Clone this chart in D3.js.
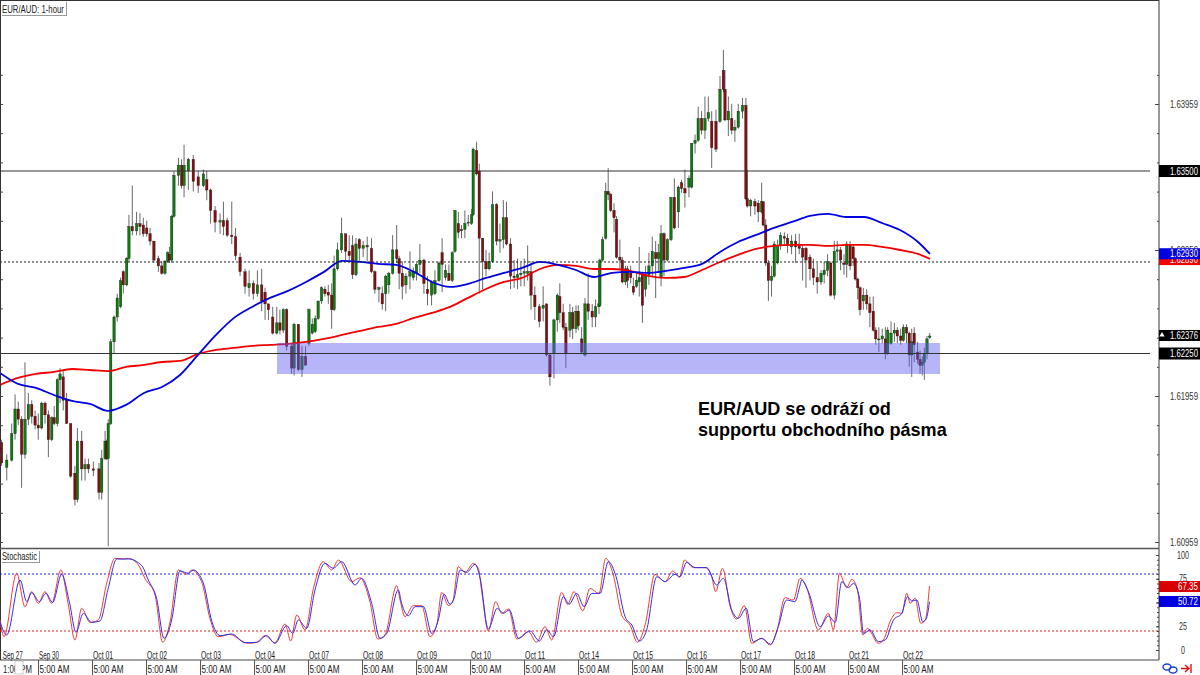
<!DOCTYPE html>
<html><head><meta charset="utf-8">
<script src="https://cdn.jsdelivr.net/npm/d3@7/dist/d3.min.js"></script>
<style>html,body{margin:0;padding:0;background:#fff}svg{display:block}text{font-family:"Liberation Sans",sans-serif}</style>
</head><body><svg id="c" width="1200" height="675"></svg>
<script>
// Candle times: hours since the left edge of the chart. Prices: pips above 1.60000.
const candleHours=[0.7,3,5.2,6.7,8.1,9.6,11.1,12.6,14.1,15.6,17,18.5,20,21.5,23,24.1,25.5,26.7,28.1,29.6,31.4,33.3,34.4,36.3,37.8,39.3,41.5,44,45.2,46.7,47.4,48.1,49.2,50.7,52.1,53.6,54.8,56.3,57.3,58.8,60.7,62.2,63.7,65.2,66.7,68.4,70.4,71.9,73.3,74.5,75.3,76.3,77.3,79.3,80.7,81.8,83.7,85.9,88.1,90.4,91.9,93.6,95.6,97.8,99.3,101,103,104.7,106.7,108.9,110.7,112.6,114.4,116.3,117.8,119.3,121.2,123,124.4,125.9,127.4,129.6,130.7,132.6,
134.2,135.8,137.3,138.8,140.1,141.4,142.9,144.4,145.9,147.4,148.5,150,151.8,153.6,155.2,156.7,158.2,159.7,161.4,163.2,165.1,166.6,168.4,169.9,171.4,172.8,174.5,176.3,177.4,178.8,180.4,182.2,183.7,185.1,186.6,188.4,190,191.8,193.3,195.1,196.5,198,199.5,201,202.2,203.7,205.1,206.6,208.1,209.6,210.3,211.8,213,214.5,216,217.4,218.9,220.7,222.2,223.7,225.1,226.9,228.5,230,231.5,233,234.5,236,237.7,239.7,241.4,242.9,244.4,246.2,247.7,248.8,250.3,251.5,253.3,254.5,256,257,258.5,260,261.4,263.2,264.7,266.2,
266.6,267.8,269.2,270.3,271.4,272.9,274,275.5,276.6,278,278.9,280.3,281.5,282.9,284.1,285.5,286.9,288.4,289.9,291.4,292.6,293.8,295.1,296.6,298.2,299.7,301.5,302.9,304.4,306.2,307.4,308.9,310.3,311.8,313.3,314.8,316.3,318.2,320,321.5,322.2,323.7,325.2,326.6,328.1,330,331.5,332.1,333.6,335.5,337,338.5,339.2,340.3,341.5,342.9,344.1,345.6,346.9,348.6,350,351.8,353.6,355.2,356.7,358.2,360,361.5,363.2,364.9,366.3,367.8,369.2,370.8,372.1,373.6,375.1,376.3,377.8,379.2,380.1,381.2,382.2,383.7,385.2,386.6,388.1,389.2,390.6,392.1,393.5,394.5,396,397.5,398.8,400.3,401.5,402.9,404.1,405.2,406.3,407.8,408.9,409.9,410.8,412,413.2];
const opens=[164,147,152,170,187,180,156,180,190,182,176,174,191,183,166,181,177,207,209,193,177,143,125,165,146,149,146,146,130,153,165,153,177,233,250,257,281,272,290,312,309,314,313,311,307,302,290,285,280,288,293,289,319,347,354,340,350,358,346,340,344,337,323,315,316,316,306,305,291,281,270,273,266,272,267,259,250,239,246,241,255,230,215,245,
214,223,232,239,240,249,261,269,267,265,255,283,296,307,295,299,279,303,297,299,297,281,269,266,266,272,280,296,290,280,272,278,277,280,286,289,269,265,266,275,294,277,280,275,295,314,309,310,315,314,320,364,350,304,288,283,288,327,302,303,318,300,278,277,279,280,280,281,265,257,256,259,224,225,248,264,253,243,241,253,242,254,235,224,259,254,250,257,
258,289,304,336,334,323,317,291,289,274,283,280,271,271,274,279,269,279,285,294,290,277,307,289,303,332,322,342,338,339,339,369,371,386,378,386,384,384,384,419,406,385,386,378,380,391,395,331,326,329,328,322,329,313,287,275,278,287,299,305,304,298,302,300,297,297,291,283,277,274,279,282,287,265,295,296,287,286,299,298,290,276,270,261,265,259,254,241,235,235,235,225,232,239,241,237,234,243,239,224,239,226,221,217,219,225,236];
const highs=[166,156,177,197,192,182,219,198,193,186,184,192,192,186,182,189,208,215,213,198,177,148,174,172,153,153,151,150,159,172,166,180,235,251,266,277,282,291,320,340,322,321,318,316,311,302,292,288,289,295,298,320,350,359,358,368,359,361,350,351,350,338,326,321,329,318,329,311,294,283,282,275,282,283,270,259,257,257,255,256,256,232,246,245,
230,230,256,249,251,261,271,271,272,273,292,301,318,307,306,306,304,304,302,305,304,282,271,271,279,281,306,313,292,288,280,295,284,287,300,290,278,275,282,288,304,286,286,295,323,322,313,323,320,324,366,370,355,304,296,294,336,328,314,330,329,304,289,290,287,290,299,288,271,259,271,259,225,249,266,273,259,246,259,257,258,258,243,263,280,259,262,287,
290,305,342,352,335,328,319,303,291,285,285,285,277,280,298,280,285,294,305,302,300,313,308,304,332,345,340,344,351,347,369,375,394,391,401,401,391,392,415,433,419,401,396,385,396,400,400,351,331,331,330,342,329,317,289,285,302,303,308,308,307,306,307,307,300,298,293,290,287,282,288,293,288,302,302,298,293,302,302,300,291,277,271,270,269,264,264,243,243,242,243,243,247,246,243,242,245,245,240,242,243,233,227,223,229,237,239];
const lows=[148,138,151,166,176,133,153,176,177,173,166,173,177,154,165,176,175,191,186,177,140,121,123,138,138,143,141,125,125,152,152,93,176,225,247,256,266,271,288,306,306,306,305,305,299,287,281,279,279,287,287,287,318,340,338,332,337,336,335,339,330,314,308,307,306,305,300,289,278,266,264,262,264,254,248,248,238,238,238,239,227,211,210,213,
209,217,230,238,239,248,259,264,259,242,254,282,294,289,289,276,278,288,291,288,280,266,260,255,254,266,279,287,269,262,266,269,275,275,280,266,258,258,265,274,267,275,275,274,294,304,304,304,312,313,319,347,266,269,278,282,287,299,294,297,299,269,270,269,271,271,275,255,248,243,247,223,203,208,240,246,241,215,236,235,239,241,225,223,248,243,243,252,
257,288,303,330,322,308,290,282,273,272,270,273,265,270,264,246,264,272,278,263,280,271,278,288,302,310,311,335,325,332,338,362,370,375,372,384,352,363,383,404,384,374,375,370,379,386,330,325,319,320,315,321,312,285,261,264,277,286,296,299,294,293,287,293,275,270,275,272,266,272,273,278,264,262,288,282,279,277,282,285,275,262,251,255,255,243,240,231,226,232,221,224,231,233,232,231,233,232,216,209,219,218,211,210,207,221,235];
const closes=[150,152,170,187,180,156,180,190,182,176,174,191,183,166,181,177,207,211,193,177,141,125,165,146,149,146,145,130,153,165,153,177,233,250,263,275,272,290,312,309,314,312,307,307,302,289,285,280,288,294,289,319,347,354,340,354,358,343,340,348,337,323,315,316,312,306,305,292,281,271,273,266,272,261,259,255,239,246,241,255,230,215,245,214,
223,217,255,245,249,261,270,266,265,255,283,296,307,295,292,279,300,297,299,298,281,269,270,259,278,280,296,290,280,271,278,281,281,286,289,273,266,274,275,287,286,282,275,294,323,308,310,314,315,320,365,348,304,288,283,288,327,302,303,318,300,278,277,279,280,281,281,265,257,247,258,224,209,248,265,253,243,225,253,242,254,244,226,259,254,250,257,259,
289,303,336,334,323,318,291,289,274,283,275,277,267,275,277,258,279,285,295,290,294,307,289,303,332,311,339,338,335,345,369,371,386,378,386,390,366,365,406,406,385,391,378,380,391,395,331,326,330,326,322,329,313,287,275,278,300,299,306,304,299,302,298,297,291,289,283,277,274,280,282,288,265,295,296,289,286,300,285,290,276,270,255,265,259,253,241,235,235,237,225,241,239,241,237,234,243,239,224,233,231,221,217,219,225,235,237];
// Moving averages sampled every 8 hours, plus the final bar.
const maHours=[...d3.range(0,409,8),413.3];
const blueMA=[211.7,204.2,201.4,196.6,192.5,190.5,185.7,189.8,198,202.1,210.3,224,237.7,249.4,256.9,263.1,267.9,274,280.9,288.4,287.7,286.4,285.7,280.9,274,270.6,272.7,276.8,280.2,283.6,287.7,285.7,282.2,277.4,280.2,280.9,280.2,281.6,283.6,286.4,294.6,301.4,306.2,311,315.1,319.2,320.6,318.5,318.5,314.4,309.6,301.4,293.2];
const redMA=[203.5,208.3,211,212.4,214.4,213.7,213,215.8,217.2,219.2,219.9,224.7,227.5,228.8,230.2,230.9,231.6,232.9,235,237.7,240.5,243.2,245.3,249.4,252.8,256.9,263.1,269.2,274,276.8,282.9,285.7,285,282.9,282.9,281.6,278.1,276.8,277.4,282.2,287.7,292.5,296.6,298.7,299.4,299.4,298.7,299.4,299.4,298,295.9,293.2,289.8];
// Stochastic %K (red) and %D (blue)
const kHours=[0,1.8,7.4,11.1,14.1,17,20,23,27,30.4,33.3,36.3,40,43.7,47.4,51.1,54.8,57,61.5,64.4,68.9,72.3,75.6,79.3,83,85.2,89.6,93.3,97,102.2,106.7,110.4,114.1,117.8,122.2,126.7,129.2,131.9,135.6,139.3,143.7,147.4,150.4,156.3,160,164.4,167.9,171.1,176.3,177.8,180,183.7,187.4,191.1,194.1,196.3,199.3,201.2,203.7,206.7,210.4,212.6,214.1,217,220.3,223,226,229.7,234.8,238.5,242.2,245.2,249.6,252.3,255.1,259,262.2,266.2,269.2,272.6,276.3,280,283.3,286.7,291.1,295.6,299,302,304.2,308.2,313.4,316.3,318.1,321.1,324.5,327.4,330.8,334.1,338.5,342.2,345.2,348.9,352.6,355.6,358.6,363.7,368.2,370.4,373.1,376.3,378.6,381.1,383.5,385.5,390.4,392.6,395.9,398.6,400.8,403,404.5,406.7,409.2,411.2,413.1];
const kValues=[31.6,14,80.7,45.6,61.4,49.1,61.4,49.1,84.2,47.4,10.5,43.9,29.1,31.6,70.2,96.5,95.8,96.5,89.5,75.4,57.9,8.1,29.8,84.2,79.6,84.2,71.9,33.3,14,16.5,10.5,7,8.1,15.1,7.7,27.4,9.5,36.8,21.1,64.9,93,84.2,94.7,71.9,76.1,50.9,11.6,15.8,67.7,52.6,35.1,46.7,46.7,14,26.3,60.7,46.7,50.9,87.7,81.8,91.2,86,61.4,20,50.9,38.6,43.2,11.6,19.3,8.1,24.6,10.5,60.7,48.1,61.4,41.1,64.9,59.6,96.5,78.9,36.8,26.3,8.1,26.3,79.6,71.9,83.2,76.5,94.7,86.7,86.7,77.2,61.4,86,45.6,32.6,46.7,7,12.3,5.3,19.3,55.1,52.6,75.4,64.9,21.1,38.6,21.1,80.7,65.6,74.4,63.2,15.8,22.8,7,10.5,31.6,39.3,38.6,59.6,49.1,54.4,28.1,31.6,67.35];
const dHours=[0,3,8.9,11.9,14.1,17.5,20.4,23.4,27.4,30.8,33.8,37,40.7,44.4,48.1,51.9,57,63,65.9,69.6,72.9,76.3,80,83.7,85.9,90.4,94.1,97.8,103,108.9,114.1,118.5,122.2,127.4,130.1,132.6,136.3,140,144.4,148.1,151.9,157.8,160.7,165.2,168.9,171.9,177,178.5,181.5,184.5,188.2,191.9,194.8,197.4,200,201.8,204.5,207.4,211.1,213.4,217,221,223.7,226.4,230.4,235.6,239.7,243,246,250.4,252.9,256.3,259.6,263,266.7,270.4,273.8,277.8,280.8,284.2,287.4,291.9,295.6,300,302.2,305.2,308.9,314.1,318.5,321.5,325.2,328.2,331.6,334.8,338.5,342.5,345.9,349.6,353.3,355.6,356.3,359.3,364.5,368.2,371.2,374.1,377.1,379.3,382,383.8,386.7,390.4,393.4,397.1,400.8,403.3,405.2,407.5,410.1,411.6,413.1];
const dValues=[29.8,15.8,73.7,50.9,60.4,50.9,59.6,50.2,79.6,50.9,18.6,38.6,29.1,30.5,64.9,95.8,95.8,88.8,73.7,54.4,12.3,31.6,83.2,80.7,84.2,70.2,30.5,15.1,16.8,7.7,8.1,15.1,7,25.6,17.5,31.6,22.8,63.2,91.2,86,93,68.4,75.4,49.1,12.3,17.5,63.2,49.1,36.1,45.6,45.6,17.5,31.6,58.6,48.1,54.4,84.2,81.8,90.2,75.4,22.1,43.9,38.6,42.1,12.3,20,9.5,21.1,14,56.1,48.1,59.6,45.6,59.6,59.6,93,77.2,35.1,26.3,9.5,21.1,77.2,71.9,79.6,77.2,92.3,86.7,86.7,68.4,75.4,42.1,33.3,43.9,8.8,12.3,6,24.6,52.6,50.9,68.4,73.7,61.4,24.6,35.8,29.1,71.9,65.6,70.2,54.4,17.5,21.1,8.8,10.5,31.6,38.6,56.1,51.6,52.6,29.8,32.6,50.72];
// Axis labels
const dayLabels=["Sep 27","Sep 30","Oct 01","Oct 02","Oct 03","Oct 04","Oct 07","Oct 08","Oct 09","Oct 10","Oct 11","Oct 14","Oct 15","Oct 16","Oct 17","Oct 18","Oct 21","Oct 22"];
const dayHours=[1.2,...d3.range(16.9,402,24)];
const sessionHours=d3.range(16.9,402,24);
const majorPips=[395.9,295.9,195.9,95.9];
const majorLabels=["1.63959","1.62959","1.61959","1.60959"];
const minorPips=d3.range(95.9,432,20);
const levelSolid=[350,225], levelDotted=287.7;
const zone={fromHour:123.1,toHour:417.8,top:232.2,bottom:211};
const tags=[{p:350,t:"1.63500"},{p:225,t:"1.62250"}];
const stochTicks=[100,75,50,25,0], stochLevels=[80,20];

const svg=d3.select("#c");
const X=d3.scaleLinear().domain([0,515.1]).range([0,1159]);
const Y=d3.scaleLinear().domain([195.9,395.9]).range([396,104]);
const S=d3.scaleLinear().domain([0,100]).range([650,555]);
const PR=1159, BOT=548.5;
// The source chart uses a narrow UI face: squeeze Liberation Sans horizontally to the measured width.
const fit=(sel,w)=>sel.each(function(d,i){
  const t=d3.select(this), x=+t.attr("x")||0, y=+t.attr("y")||0;
  const target=typeof w==="function"?w(d,i):w, len=this.getComputedTextLength();
  t.attr("x",null).attr("y",null).attr("transform",`translate(${x},${y}) scale(${target/len},1)`);
});

const gc=svg.append("g");
const idx=d3.range(candleHours.length);
gc.selectAll("line").data(idx).join("line")
 .attr("x1",i=>X(candleHours[i])).attr("x2",i=>X(candleHours[i]))
 .attr("y1",i=>Y(highs[i])).attr("y2",i=>Y(lows[i]))
 .attr("stroke","#444").attr("stroke-width",1).attr("stroke-opacity",.8);
gc.selectAll("rect").data(idx).join("rect")
 .attr("x",i=>X(candleHours[i])-1.2).attr("width",2.4)
 .attr("y",i=>Y(Math.max(opens[i],closes[i])))
 .attr("height",i=>Math.max(1,Math.abs(Y(opens[i])-Y(closes[i]))))
 .attr("fill",i=>closes[i]>=opens[i]?"#0b7d0b":"#8a0c0c")
 .attr("stroke","#111").attr("stroke-width",.35);

const ln=(xs,ys,s)=>d3.line().x(i=>X(xs[i])).y(i=>s(ys[i])).curve(d3.curveMonotoneX)(d3.range(xs.length));
svg.append("path").attr("d",ln(maHours,redMA,Y)).attr("fill","none").attr("stroke","#f00000").attr("stroke-width",1.8);
svg.append("path").attr("d",ln(maHours,blueMA,Y)).attr("fill","none").attr("stroke","#0000e0").attr("stroke-width",1.8);

svg.append("rect").attr("x",X(zone.fromHour)).attr("width",X(zone.toHour)-X(zone.fromHour))
 .attr("y",Y(zone.top)).attr("height",Y(zone.bottom)-Y(zone.top)).attr("fill","#5a5af0").attr("fill-opacity",.45);

levelSolid.forEach(p=>svg.append("line").attr("x1",0).attr("x2",1150).attr("y1",Y(p)).attr("y2",Y(p)).attr("stroke","#333").attr("stroke-width",1));
svg.append("line").attr("x1",0).attr("x2",1150).attr("y1",Y(levelDotted)).attr("y2",Y(levelDotted)).attr("stroke","#222").attr("stroke-dasharray","2,2");

// annotation
fit(svg.append("text").attr("x",698).attr("y",415).text("EUR/AUD se odráží od").style("font-weight","bold").style("font-size","18px"),193);
fit(svg.append("text").attr("x",698).attr("y",436).text("supportu obchodního pásma").style("font-weight","bold").style("font-size","18px"),249);

// panel frame
const fr=(x1,y1,x2,y2,c,w)=>svg.append("line").attr("x1",x1).attr("y1",y1).attr("x2",x2).attr("y2",y2).attr("stroke",c).attr("stroke-width",w);
fr(0,.5,PR,.5,"#333",1); fr(.5,0,.5,660,"#333",1); fr(PR,0,PR,660,"#555",1.2);
fr(0,BOT,PR,BOT,"#555",1.6); fr(0,660,PR,660,"#444",1);

// price axes
const ax=svg.append("g").attr("transform",`translate(${PR},0)`);
ax.call(d3.axisLeft(Y).tickValues(minorPips.filter(p=>Y(p)>4)).tickSize(2).tickFormat(""));
const ax2=svg.append("g").attr("transform",`translate(${PR},0)`);
ax2.call(d3.axisLeft(Y).tickValues(majorPips).tickSize(4).tickFormat(""));
const al=svg.append("g").attr("transform","translate(0,0)");
al.call(d3.axisRight(Y).tickValues(minorPips.filter(p=>Y(p)>4)).tickSize(3).tickFormat(""));
[ax,ax2,al].forEach(g=>{g.select(".domain").remove();g.selectAll("line").attr("stroke","#444")});

const labels=svg.append("g").style("font-size","10.5px");
fit(labels.selectAll("text").data(majorPips).join("text").attr("x",1170).attr("y",p=>Y(p)+3.5).attr("fill","#333").text((p,i)=>majorLabels[i]),28);

const tag=(y,h,fill,txt,w)=>{svg.append("rect").attr("x",PR).attr("y",y).attr("width",41).attr("height",h).attr("fill",fill);
 if(txt)fit(svg.append("text").attr("x",1198-w).attr("y",y+h/2+3.5).attr("fill","#fff").style("font-size","10.5px").text(txt),w);};
tags.forEach(t=>tag(Y(t.p)-6,12,"#000",t.t,28));
tag(Y(237.7)-5,11,"#000","1.62376",28);
svg.append("path").attr("d",d3.symbol(d3.symbolTriangle,12)()).attr("transform",`translate(1162,${Y(237.7)})`).attr("fill","#fff");
tag(Y(289)-6,11,"#ee0000","1.62890",28);
tag(Y(293)-6,11,"#0000e0","1.62930",28);

// stochastic panel
stochLevels.forEach((v,i)=>svg.append("line").attr("x1",0).attr("x2",PR).attr("y1",S(v)).attr("y2",S(v)).attr("stroke",i?"#e02020":"#2222dd").attr("stroke-dasharray","2,2"));
svg.append("path").attr("d",ln(kHours,kValues,S)).attr("fill","none").attr("stroke","#f03a3a").attr("stroke-width",1);
svg.append("path").attr("d",ln(dHours,dValues,S)).attr("fill","none").attr("stroke","#2f2fe8").attr("stroke-width",1);
const as=svg.append("g").attr("transform",`translate(${PR},0)`);
as.call(d3.axisLeft(S).tickValues(d3.range(0,101,5)).tickSize(2).tickFormat(""));
const as2=svg.append("g").attr("transform",`translate(${PR},0)`);
as2.call(d3.axisLeft(S).tickValues(stochTicks).tickSize(3).tickFormat(""));
[as,as2].forEach(g=>{g.select(".domain").remove();g.selectAll("line").attr("stroke","#444")});
fit(svg.append("g").selectAll("text").data(stochTicks).join("text").attr("x",v=>1183-String(v).length*2).attr("y",v=>S(v)+3.5).attr("fill","#333").style("font-size","10.5px").text(v=>v),v=>String(v).length*4);
tag(581,11,"#d80000","67.35",20);
tag(596,11,"#0000e0","50.72",20);

// legends
const box=(x,y,w,h,t,tw)=>{svg.append("rect").attr("x",x+1).attr("y",y+1).attr("width",w).attr("height",h).attr("fill","#999");
 svg.append("rect").attr("x",x).attr("y",y).attr("width",w).attr("height",h).attr("fill","#fff");
 fit(svg.append("text").attr("x",x+1).attr("y",y+h-2.5).attr("fill","#222").style("font-size","10.5px").text(t),tw);};
box(1,1,65,14,"EUR/AUD: 1-hour",62);
box(1,550,38,12,"Stochastic",35);

// time labels
const dl=svg.append("g").style("font-size","10.5px");
fit(dl.selectAll("text").data(dayHours).join("text").attr("x",(h,i)=>X(h)+(i?1:0)).attr("y",658.5).attr("fill","#222").text((h,i)=>dayLabels[i]),20);
const tx=svg.append("g").attr("transform","translate(0,660)");
tx.call(d3.axisBottom(X).tickValues(sessionHours).tickSize(15).tickFormat(""));
tx.select(".domain").remove(); tx.selectAll("line").attr("stroke","#555");
fit(svg.append("g").style("font-size","10.5px").selectAll("text").data(sessionHours).join("text").attr("x",h=>X(h)+1.5).attr("y",673).attr("fill","#222").text("5:00 AM"),30);
fit(svg.append("text").attr("x",3).attr("y",673).attr("fill","#222").style("font-size","10.5px").text("1:00 PM"),29);
svg.append("rect").attr("x",15).attr("y",661).attr("width",8).attr("height",13).attr("fill","#fff").attr("stroke","#aaa").attr("stroke-width",.6);

// bottom-right icons
svg.append("ellipse").attr("cx",1167).attr("cy",667).attr("rx",4).attr("ry",3).attr("fill","none").attr("stroke","#1a3fd0").attr("stroke-width",1.4);
svg.append("ellipse").attr("cx",1173).attr("cy",670).attr("rx",4).attr("ry",3).attr("fill","none").attr("stroke","#1a3fd0").attr("stroke-width",1.4);
svg.append("path").attr("d","M1181 668.5h8M1185 665l4 3.5-4 3.5M1191 664v9").attr("fill","none").attr("stroke","#e01010").attr("stroke-width",1.4);
</script></body></html>
